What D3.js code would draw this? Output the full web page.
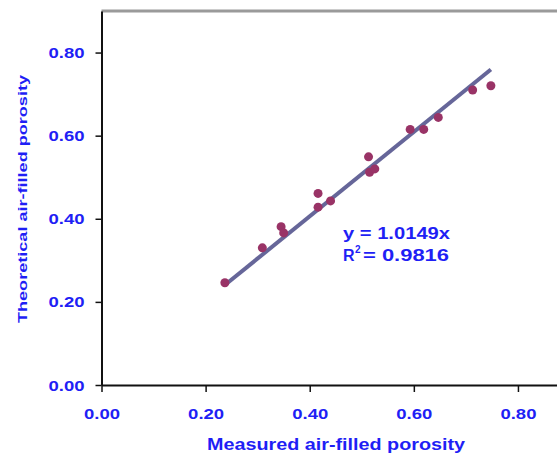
<!DOCTYPE html>
<html>
<head>
<meta charset="utf-8">
<script src="https://cdn.jsdelivr.net/npm/d3@7"></script>
<style>
  body { margin: 0; background: #fff; }
  text { font-family: Arial, "Liberation Sans", sans-serif; font-weight: bold; }
</style>
</head>
<body>
<div id="chart"></div>
<script>
const measured = [0.237, 0.309, 0.345, 0.350, 0.416, 0.416, 0.440, 0.513, 0.515, 0.525, 0.593, 0.619, 0.647, 0.713, 0.748]
const theoretical = [0.246, 0.330, 0.381, 0.366, 0.461, 0.428, 0.443, 0.549, 0.512, 0.520, 0.615, 0.615, 0.644, 0.710, 0.720]
const tickValues = [0, 0.2, 0.4, 0.6, 0.8]
const slope = 1.0149
const rSquared = 0.9816
const xTitle = 'Measured air-filled porosity'
const yTitle = 'Theoretical air-filled porosity'

const width = 557
const height = 456
const blue = '#1f1ff5'

const svg = d3.select('#chart')
    .append('svg')
    .attr('width', width)
    .attr('height', height)

// Scales (plot area runs past the right edge of the picture)
const xScale = d3.scaleLinear()
    .domain([0, 0.9])
    .range([101.5, 570])
const yScale = d3.scaleLinear()
    .domain([0, 0.9])
    .range([385, 11])

// Top border
svg.append('line')
    .attr('x1', xScale(0)).attr('x2', width)
    .attr('y1', yScale(0.9)).attr('y2', yScale(0.9))
    .attr('stroke', '#9a9a9a')
    .attr('stroke-width', 3)

// X axis
const xAxis = d3.axisBottom(xScale)
    .tickValues(tickValues)
    .tickSizeInner(7)
    .tickSizeOuter(0)
    .tickFormat(d3.format('.2f'))
const gx = svg.append('g')
    .attr('transform', `translate(0, ${yScale(0)})`)
    .call(xAxis)
gx.select('.domain').attr('stroke', '#111').attr('stroke-width', 2)
gx.selectAll('.tick line').attr('stroke', '#111').attr('stroke-width', 1.5)
gx.selectAll('.tick text')
    .attr('y', 33.5)
    .attr('dy', null)
    .attr('fill', blue)
    .attr('font-size', 14)
    .attr('textLength', 36)
    .attr('lengthAdjust', 'spacingAndGlyphs')

// Y axis
const yAxis = d3.axisLeft(yScale)
    .tickValues(tickValues)
    .tickSizeInner(6)
    .tickSizeOuter(0)
    .tickFormat(d3.format('.2f'))
const gy = svg.append('g')
    .attr('transform', `translate(${xScale(0)}, 0)`)
    .call(yAxis)
gy.select('.domain').attr('stroke', '#111').attr('stroke-width', 2)
gy.selectAll('.tick line').attr('stroke', '#111').attr('stroke-width', 1.5)
gy.selectAll('.tick text')
    .attr('x', -17)
    .attr('dy', '0.36em')
    .attr('fill', blue)
    .attr('font-size', 14)
    .attr('textLength', 36)
    .attr('lengthAdjust', 'spacingAndGlyphs')

// Axis titles
svg.append('text')
    .attr('x', 336)
    .attr('y', 450)
    .attr('text-anchor', 'middle')
    .attr('fill', blue)
    .attr('font-size', 16)
    .attr('textLength', 258)
    .attr('lengthAdjust', 'spacingAndGlyphs')
    .text(xTitle)
svg.append('text')
    .attr('transform', 'translate(27, 199) rotate(-90)')
    .attr('text-anchor', 'middle')
    .attr('fill', blue)
    .attr('font-size', 12)
    .attr('textLength', 248)
    .attr('lengthAdjust', 'spacingAndGlyphs')
    .text(yTitle)

// Trendline through origin
const xExtent = d3.extent(measured)
svg.append('line')
    .attr('x1', xScale(xExtent[0]))
    .attr('y1', yScale(slope * xExtent[0]))
    .attr('x2', xScale(xExtent[1]))
    .attr('y2', yScale(slope * xExtent[1]))
    .attr('stroke', '#666699')
    .attr('stroke-width', 4)

// Points
svg.selectAll('circle')
    .data(measured)
    .enter()
    .append('circle')
    .attr('cx', d => xScale(d))
    .attr('cy', (d, i) => yScale(theoretical[i]))
    .attr('r', 4.5)
    .attr('fill', '#993366')

// Equation and R squared
svg.append('text')
    .attr('x', 343)
    .attr('y', 239)
    .attr('fill', blue)
    .attr('font-size', 16)
    .attr('textLength', 107)
    .attr('lengthAdjust', 'spacingAndGlyphs')
    .text(`y = ${slope}x`)
svg.append('text')
    .attr('x', 343)
    .attr('y', 261)
    .attr('fill', blue)
    .attr('font-size', 16)
    .text('R')
svg.append('text')
    .attr('x', 355)
    .attr('y', 253)
    .attr('fill', blue)
    .attr('font-size', 10)
    .text('2')
svg.append('text')
    .attr('x', 363)
    .attr('y', 261)
    .attr('fill', blue)
    .attr('font-size', 16)
    .attr('textLength', 86)
    .attr('lengthAdjust', 'spacingAndGlyphs')
    .text(`= ${rSquared}`)
</script>
</body>
</html>
